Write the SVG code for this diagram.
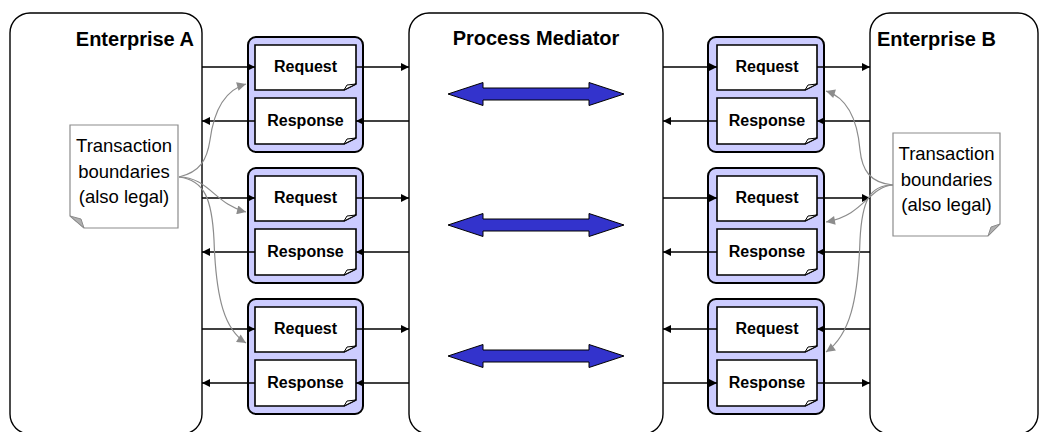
<svg xmlns="http://www.w3.org/2000/svg" width="1041" height="432" viewBox="0 0 1041 432">
<defs>
<style>
.big{fill:#fff;stroke:#000;stroke-width:1.4}
.grp{fill:#ccccff;stroke:#000;stroke-width:2}
.doc{fill:#fff;stroke:#000;stroke-width:1.6}
.fold{fill:#fff;stroke:#000;stroke-width:1}
.lbl{font-family:"Liberation Sans",Arial,sans-serif;font-weight:bold;font-size:16px;text-anchor:middle;fill:#000}
.ttl{font-family:"Liberation Sans",Arial,sans-serif;font-weight:bold;font-size:20px;fill:#000}
.note{fill:#fff;stroke:#8c8c8c;stroke-width:1.2}
.ntxt{font-family:"Liberation Sans",Arial,sans-serif;font-size:18.5px;text-anchor:middle;fill:#000}
.ln{stroke:#000;stroke-width:1.3;fill:none;marker-end:url(#ah)}
.gl{stroke:#8c8c8c;stroke-width:1.2;fill:none;marker-end:url(#gh)}
.dbl{fill:#3333cc;stroke:#000;stroke-width:1}
</style>
<marker id="ah" viewBox="0 0 10 10" refX="10" refY="5" markerWidth="10" markerHeight="8" markerUnits="userSpaceOnUse" orient="auto"><path d="M0,0 L10,5 L0,10 z" fill="#000"/></marker>
<marker id="gh" viewBox="0 0 10 10" refX="10" refY="5" markerWidth="12" markerHeight="9" markerUnits="userSpaceOnUse" orient="auto"><path d="M0,0 L10,5 L0,10 z" fill="#8c8c8c"/></marker>
<g id="docL">
<rect class="grp" x="248" y="37" width="115" height="115" rx="8"/>
<path class="doc" d="M255,45 H356 V84 L344,90 H255 Z"/>
<path class="fold" d="M344,90 L347,85 L356,84 Z"/>
<path class="doc" d="M255,98 H356 V138 L344,144 H255 Z"/>
<path class="fold" d="M344,144 L347,139 L356,138 Z"/>
<text class="lbl" x="305.5" y="72">Request</text>
<text class="lbl" x="305.5" y="126">Response</text>
</g>
<g id="docR">
<rect class="grp" x="708" y="37" width="116" height="115" rx="8"/>
<path class="doc" d="M717,45 H817 V84 L805,90 H717 Z"/>
<path class="fold" d="M805,90 L808,85 L817,84 Z"/>
<path class="doc" d="M717,98 H817 V138 L805,144 H717 Z"/>
<path class="fold" d="M805,144 L808,139 L817,138 Z"/>
<text class="lbl" x="767" y="72">Request</text>
<text class="lbl" x="767" y="126">Response</text>
</g>
<path id="dblarrow" class="dbl" d="M448,0 L483,-11.5 L483,-6 L589,-6 L589,-11.5 L624,0 L589,11.5 L589,6 L483,6 L483,11.5 Z"/>
</defs>

<g id="enterpriseA">
<rect class="big" x="10" y="13" width="192" height="421" rx="20"/>
<text class="ttl" x="194" y="46" text-anchor="end">Enterprise A</text>
</g>
<g id="mediator">
<rect class="big" x="409" y="13" width="254" height="421" rx="20"/>
<text class="ttl" x="536" y="45" text-anchor="middle">Process Mediator</text>
</g>
<g id="enterpriseB">
<rect class="big" x="870" y="13" width="168" height="421" rx="20"/>
<text class="ttl" x="877" y="46">Enterprise B</text>
</g>

<g id="msgA1"><use href="#docL"/></g>
<g id="msgA2"><use href="#docL" y="131"/></g>
<g id="msgA3"><use href="#docL" y="262"/></g>
<g id="msgB1"><use href="#docR"/></g>
<g id="msgB2"><use href="#docR" y="131"/></g>
<g id="msgB3"><use href="#docR" y="262"/></g>

<g id="exchange1"><use href="#dblarrow" y="94"/></g>
<g id="exchange2"><use href="#dblarrow" y="225"/></g>
<g id="exchange3"><use href="#dblarrow" y="356"/></g>

<g id="noteA">
<path class="note" d="M70,125 H178 V228 H84 L70,216 Z"/>
<path d="M70,216 L84,228 L81,219 Z" fill="#b0b0b0" stroke="#8c8c8c" stroke-width="1"/>
<text class="ntxt" x="124" y="152">Transaction</text>
<text class="ntxt" x="124" y="178">boundaries</text>
<text class="ntxt" x="124" y="203">(also legal)</text>
</g>
<g id="noteB">
<path class="note" d="M893,133 H1000 V224 L988,236 H893 Z"/>
<path d="M1000,224 L988,236 L991,227 Z" fill="#b0b0b0" stroke="#8c8c8c" stroke-width="1"/>
<text class="ntxt" x="946.5" y="160">Transaction</text>
<text class="ntxt" x="946.5" y="186">boundaries</text>
<text class="ntxt" x="946.5" y="211">(also legal)</text>
</g>

<g id="connectors">
<!-- left side, group 1 -->
<path class="ln" d="M202,67 H255"/>
<path class="ln" d="M356,67 H409"/>
<path class="ln" d="M409,121 H356"/>
<path class="ln" d="M255,121 H202"/>
<!-- left group 2 -->
<path class="ln" d="M202,198 H255"/>
<path class="ln" d="M356,198 H409"/>
<path class="ln" d="M409,252 H356"/>
<path class="ln" d="M255,252 H202"/>
<!-- left group 3 -->
<path class="ln" d="M202,329 H255"/>
<path class="ln" d="M356,329 H409"/>
<path class="ln" d="M409,383 H356"/>
<path class="ln" d="M255,383 H202"/>
<!-- right group 1 -->
<path class="ln" d="M663,67 H717"/>
<path class="ln" d="M817,67 H870"/>
<path class="ln" d="M870,121 H817"/>
<path class="ln" d="M717,121 H663"/>
<!-- right group 2 -->
<path class="ln" d="M663,198 H717"/>
<path class="ln" d="M817,198 H870"/>
<path class="ln" d="M870,252 H817"/>
<path class="ln" d="M717,252 H663"/>
<!-- right group 3 -->
<path class="ln" d="M870,329 H817"/>
<path class="ln" d="M717,329 H663"/>
<path class="ln" d="M663,383 H717"/>
<path class="ln" d="M817,383 H870"/>
<!-- transaction boundary pointers -->
<path class="gl" d="M179,177 C200,172 207,160 210,140 C214,110 225,90 246,84"/>
<path class="gl" d="M179,177 C208,177 216,205 246,212"/>
<path class="gl" d="M179,177 C205,180 212,200 214,240 C216,300 225,330 246,343"/>
<path class="gl" d="M893,185 C870,183 862,170 860,150 C857,115 845,97 826,91"/>
<path class="gl" d="M893,185 C868,187 865,215 826,222"/>
<path class="gl" d="M893,185 C870,185 862,200 860,240 C858,300 850,335 826,352"/>
</g>
</svg>
